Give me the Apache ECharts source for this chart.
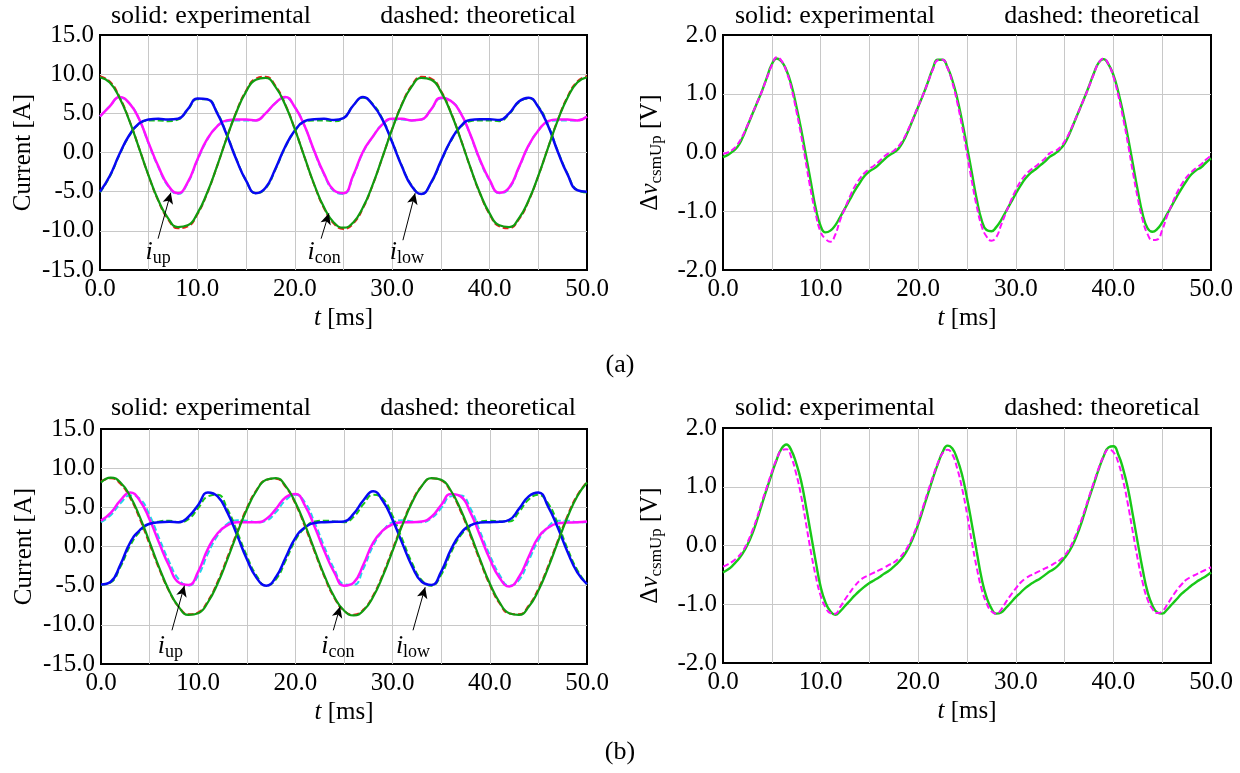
<!DOCTYPE html>
<html><head><meta charset="utf-8">
<script src="https://cdn.jsdelivr.net/npm/echarts@6/dist/echarts.min.js"></script>
<style>html,body{margin:0;padding:0;background:#fff}#c{width:1240px;height:773px}</style>
</head><body><div id="c"></div>
<script>
// time samples [ms]
const tI = [0,1,2,3,4,5,6,7,8,9,10,11,12,13,14,15,16,17,18,19,20,21,22,23,24,25,26,27,28,29,30,31,32,33,34,35,36,37,38,39,40,41,42,43,44,45,46,47,48,49,50];
const tV = [0,0.5,1,1.5,2,2.5,3,3.5,4,4.5,5,5.5,6,6.5,7,7.5,8,8.5,9,9.5,10,10.5,11,11.5,12,12.5,13,13.5,14,14.5,15,15.5,16,16.5,17,17.5,18,18.5,19,19.5,20,20.5,21,21.5,22,22.5,23,23.5,24,24.5,25,25.5,26,26.5,27,27.5,28,28.5,29,29.5,30,30.5,31,31.5,32,32.5,33,33.5,34,34.5,35,35.5,36,36.5,37,37.5,38,38.5,39,39.5,40,40.5,41,41.5,42,42.5,43,43.5,44,44.5,45,45.5,46,46.5,47,47.5,48,48.5,49,49.5,50];
const xTicks = [0,10,20,30,40,50];

// (a) currents [A]
const aConExp = [9.6,8.93,7.0,4.09,0.6,-2.97,-6.12,-8.41,-9.52,-9.3,-7.77,-5.14,-1.8,1.8,5.14,7.77,9.3,9.52,8.41,6.12,2.97,-0.6,-4.09,-7.0,-8.93,-9.6,-8.93,-7.0,-4.09,-0.6,2.97,6.12,8.41,9.52,9.3,7.77,5.14,1.8,-1.8,-5.14,-7.77,-9.3,-9.52,-8.41,-6.12,-2.97,0.6,4.09,7.0,8.93,9.6];
const aConThe = [9.75,9.07,7.11,4.15,0.61,-3.01,-6.21,-8.54,-9.67,-9.44,-7.89,-5.22,-1.83,1.83,5.22,7.89,9.44,9.67,8.54,6.21,3.01,-0.61,-4.15,-7.11,-9.07,-9.75,-9.07,-7.11,-4.15,-0.61,3.01,6.21,8.54,9.67,9.44,7.89,5.22,1.83,-1.83,-5.22,-7.89,-9.44,-9.67,-8.54,-6.21,-3.01,0.61,4.15,7.11,9.07,9.75];
const aLowExp = [-5.0,-3.0,-0.2,2.2,3.7,4.2,4.3,4.2,4.3,5.5,6.9,6.8,5.1,2.3,-0.9,-3.6,-5.2,-4.5,-2.1,0.7,2.8,4.0,4.25,4.3,4.15,4.4,6.0,7.1,6.1,4.2,1.3,-1.8,-4.3,-5.3,-3.8,-1.1,1.5,3.3,4.15,4.25,4.25,4.15,5.0,6.5,7.0,5.8,3.4,0.1,-2.8,-4.8,-5.0];
const aLowThe = [-5.1,-3.1,-0.3,2.1,3.6,4.1,4.1,4.0,4.2,5.4,6.8,6.8,5.2,2.4,-0.8,-3.6,-5.2,-4.6,-2.2,0.6,2.7,3.9,4.1,4.1,4.0,4.4,6.0,7.0,6.2,4.3,1.4,-1.7,-4.2,-5.3,-3.9,-1.2,1.4,3.2,4.0,4.1,4.1,4.0,4.9,6.4,6.9,5.9,3.5,0.2,-2.7,-4.8,-5.1];
const aUpExp = [4.6,5.9,7.1,6.3,4.3,1.2,-1.8,-4.2,-5.2,-3.8,-0.9,1.7,3.3,4.1,4.2,4.2,4.1,5.0,6.3,7.1,5.8,3.4,0.2,-2.7,-4.8,-5.2,-2.9,0.1,2.0,3.6,4.3,4.3,4.1,4.2,5.5,7.0,6.6,5.1,2.35,-0.9,-3.5,-5.15,-4.5,-1.9,0.9,2.8,4.0,4.2,4.2,4.1,4.6];
const aUpThe = [4.6,5.9,7.0,6.3,4.3,1.1,-1.9,-4.3,-5.3,-3.9,-1.0,1.6,3.3,4.0,4.1,4.1,4.1,5.0,6.3,7.0,5.8,3.4,0.1,-2.8,-4.9,-5.3,-3.0,0.0,2.0,3.6,4.2,4.2,4.1,4.2,5.5,6.9,6.6,5.1,2.3,-1.0,-3.6,-5.2,-4.6,-2.0,0.8,2.8,3.9,4.1,4.1,4.1,4.6];
// (a) voltage [V], 0.5 ms steps
const aVExp = [-0.08,-0.04,0.02,0.1,0.25,0.45,0.65,0.85,1.05,1.28,1.5,1.6,1.55,1.4,1.15,0.8,0.4,-0.05,-0.5,-0.95,-1.25,-1.36,-1.33,-1.24,-1.1,-0.95,-0.8,-0.65,-0.52,-0.4,-0.32,-0.27,-0.2,-0.12,
  -0.05,0.0,0.07,0.2,0.38,0.58,0.78,0.98,1.2,1.43,1.58,1.58,1.45,1.23,0.92,0.53,0.1,-0.35,-0.8,-1.15,-1.32,-1.34,-1.27,-1.15,-1.0,-0.85,-0.7,-0.56,-0.44,-0.35,-0.29,-0.22,-0.15,
  -0.07,-0.02,0.05,0.15,0.32,0.52,0.72,0.92,1.13,1.35,1.53,1.59,1.5,1.32,1.03,0.67,0.25,-0.2,-0.65,-1.05,-1.29,-1.35,-1.3,-1.19,-1.05,-0.9,-0.75,-0.61,-0.48,-0.37,-0.3,-0.25,-0.17,-0.1];
const aVThe = [-0.02,0.0,0.05,0.14,0.28,0.46,0.66,0.85,1.05,1.27,1.48,1.62,1.56,1.38,1.1,0.72,0.3,-0.18,-0.65,-1.05,-1.35,-1.47,-1.52,-1.4,-1.15,-0.95,-0.75,-0.58,-0.45,-0.35,-0.28,-0.22,-0.15,-0.07,
  -0.01,0.03,0.11,0.23,0.4,0.59,0.79,0.98,1.2,1.41,1.57,1.58,1.44,1.19,0.85,0.44,-0.02,-0.49,-0.92,-1.25,-1.43,-1.5,-1.44,-1.23,-1.02,-0.82,-0.64,-0.49,-0.38,-0.3,-0.24,-0.17,-0.1,
  -0.01,0.02,0.08,0.19,0.34,0.53,0.72,0.92,1.12,1.34,1.53,1.6,1.5,1.29,0.97,0.58,0.14,-0.34,-0.78,-1.15,-1.39,-1.49,-1.48,-1.32,-1.08,-0.88,-0.69,-0.54,-0.42,-0.33,-0.26,-0.2,-0.12,-0.05];

// (b) currents [A]
const bConExp = [8.18,8.8,8.18,6.42,3.75,0.55,-2.72,-5.61,-7.71,-8.73,-8.52,-7.12,-4.72,-1.65,1.65,4.72,7.12,8.52,8.73,7.71,5.61,2.72,-0.55,-3.75,-6.42,-8.18,-8.8,-8.18,-6.42,-3.75,-0.55,2.72,5.61,7.71,8.73,8.52,7.12,4.72,1.65,-1.65,-4.72,-7.12,-8.52,-8.73,-7.71,-5.61,-2.72,0.55,3.75,6.42,8.18];
const bConThe = [8.3,8.7,8.0,6.2,3.5,0.3,-2.9,-5.7,-7.7,-8.65,-8.4,-6.95,-4.5,-1.4,1.85,4.9,7.2,8.5,8.65,7.6,5.45,2.5,-0.75,-3.9,-6.55,-8.2,-8.7,-8.05,-6.25,-3.55,-0.35,2.9,5.75,7.75,8.7,8.45,6.95,4.5,1.4,-1.85,-4.9,-7.25,-8.55,-8.65,-7.55,-5.4,-2.5,0.75,3.95,6.55,8.25];
const bLowExp = [-4.85,-4.5,-2.3,0.5,2.1,2.9,3.1,3.15,3.1,3.8,5.3,6.9,6.4,4.35,1.45,-1.6,-4.0,-5.0,-3.9,-1.4,1.1,2.45,3.0,3.1,3.15,3.2,4.2,5.9,7.05,5.8,3.4,0.4,-2.5,-4.5,-4.9,-3.2,-0.4,1.65,2.7,3.05,3.1,3.15,3.4,4.8,6.4,6.9,5.1,2.4,-0.7,-3.3,-4.8];
const bLowThe = [-4.9,-4.6,-2.6,0.1,1.9,2.9,3.2,3.3,3.1,3.5,4.9,6.4,6.6,4.8,1.9,-1.2,-3.7,-5.0,-4.2,-1.8,0.8,2.4,3.2,3.3,3.2,3.1,3.8,5.4,6.6,6.1,3.9,0.9,-2.1,-4.3,-5.0,-3.6,-0.8,1.4,2.6,3.2,3.3,3.2,3.2,4.4,6.0,6.6,5.5,2.9,-0.3,-3.0,-4.8];
const bUpExp = [3.3,4.3,5.9,6.9,5.85,3.45,0.4,-2.45,-4.6,-4.9,-3.2,-0.3,1.7,2.7,3.1,3.1,3.1,3.5,4.8,6.3,6.7,5.2,2.45,-0.65,-3.3,-5.0,-4.6,-2.3,0.5,2.05,2.85,3.1,3.1,3.2,3.8,5.3,6.7,6.4,4.35,1.4,-1.6,-4.0,-5.1,-3.9,-1.3,1.2,2.4,2.95,3.05,3.1,3.2];
const bUpThe = [3.1,4.0,5.5,6.5,6.1,4.0,1.0,-1.9,-4.2,-5.0,-3.7,-0.9,1.4,2.9,3.35,3.3,3.1,3.3,4.4,5.9,6.6,5.6,3.0,-0.1,-2.9,-4.8,-4.9,-2.8,0.1,2.0,3.1,3.35,3.2,3.1,3.6,4.9,6.4,6.5,4.9,1.9,-1.1,-3.6,-5.0,-4.3,-1.8,0.8,2.5,3.3,3.3,3.1,3.1];
// (b) voltage [V], 0.5 ms steps
const bVExp = [-0.46,-0.41,-0.34,-0.25,-0.14,0.01,0.2,0.44,0.71,0.97,1.22,1.46,1.65,1.72,1.62,1.4,1.1,0.67,0.2,-0.27,-0.7,-0.97,-1.12,-1.18,-1.12,-1.03,-0.94,-0.85,-0.77,-0.7,-0.64,-0.59,-0.54,-0.48,
  -0.43,-0.36,-0.28,-0.18,-0.04,0.14,0.36,0.62,0.88,1.14,1.38,1.59,1.7,1.65,1.47,1.2,0.81,0.36,-0.11,-0.56,-0.88,-1.07,-1.16,-1.14,-1.06,-0.97,-0.88,-0.8,-0.72,-0.66,-0.61,-0.56,-0.5,
  -0.44,-0.39,-0.31,-0.21,-0.09,0.07,0.28,0.53,0.8,1.05,1.3,1.52,1.67,1.69,1.55,1.3,0.96,0.51,0.04,-0.41,-0.79,-1.02,-1.14,-1.16,-1.09,-1.0,-0.91,-0.82,-0.75,-0.68,-0.62,-0.57,-0.52,-0.46];
const bVThe = [-0.36,-0.32,-0.27,-0.2,-0.1,0.05,0.25,0.48,0.75,1.0,1.25,1.47,1.62,1.64,1.5,1.22,0.85,0.38,-0.1,-0.52,-0.85,-1.05,-1.15,-1.16,-1.05,-0.92,-0.8,-0.69,-0.6,-0.54,-0.5,-0.46,-0.42,-0.38,
  -0.33,-0.29,-0.22,-0.13,0.0,0.18,0.4,0.66,0.92,1.17,1.4,1.57,1.63,1.55,1.31,0.97,0.54,0.06,-0.38,-0.74,-0.98,-1.12,-1.16,-1.09,-0.96,-0.84,-0.73,-0.63,-0.56,-0.51,-0.47,-0.43,-0.39,
  -0.35,-0.3,-0.25,-0.17,-0.05,0.12,0.33,0.57,0.83,1.08,1.32,1.52,1.63,1.59,1.41,1.1,0.69,0.22,-0.24,-0.63,-0.92,-1.08,-1.15,-1.12,-1.01,-0.88,-0.76,-0.66,-0.58,-0.53,-0.49,-0.45,-0.41,-0.37];

// annotation anchors (data coordinates): label centre, arrow tail, arrow tip
const annA = [
  {sub:'up',  label:[5.96,-12.7], tail:[5.96,-11.0], tip:[7.27,-5.13]},
  {sub:'con', label:[23.0,-12.7], tail:[22.7,-11.0], tip:[23.5,-7.77]},
  {sub:'low', label:[31.5,-12.7], tail:[31.1,-11.2], tip:[32.35,-5.2]}
];
const annB = [
  {sub:'up',  label:[7.14,-12.7], tail:[7.3,-10.7], tip:[8.58,-5.0]},
  {sub:'con', label:[24.36,-12.7], tail:[23.9,-10.7], tip:[24.6,-7.67]},
  {sub:'low', label:[32.1,-12.7], tail:[32.1,-10.7], tip:[33.35,-5.2]}
];

const FONT = "'Liberation Serif','Times New Roman',serif";
const BLACK = '#000';
const richBase = {
  n:   {fontFamily:FONT, fontSize:25, color:BLACK, lineHeight:30},
  it:  {fontFamily:FONT, fontSize:25, color:BLACK, fontStyle:'italic', lineHeight:30},
  sub: {fontFamily:FONT, fontSize:17, color:BLACK, lineHeight:17, padding:[13,0,0,0], verticalAlign:'top'}
};
const annRich = {
  it:  {fontFamily:FONT, fontSize:26, color:BLACK, fontStyle:'italic', lineHeight:30},
  sub: {fontFamily:FONT, fontSize:18, color:BLACK, lineHeight:18, padding:[12,0,0,0], verticalAlign:'top'}
};

const grids = [
  {left:100, top:35, width:487, height:235},
  {left:723, top:35, width:488, height:235},
  {left:101, top:429, width:486, height:235},
  {left:723, top:428, width:488, height:235}
];

function xAxisFor(i){
  return {
    type:'value', gridIndex:i, min:0, max:50, interval:5,
    axisLine:{show:false}, axisTick:{show:false},
    splitLine:{show:true, showMinLine:false, showMaxLine:false, lineStyle:{color:'#c8c8c8', width:1}},
    axisLabel:{fontFamily:FONT, fontSize:25, color:BLACK, margin:7,
      formatter:v => xTicks.indexOf(v) >= 0 ? v.toFixed(1) : ''},
    name:'{it|t}{n| [ms]}', nameLocation:'middle', nameGap:33,
    nameTextStyle:{fontFamily:FONT, fontSize:25, color:BLACK, rich:richBase}
  };
}
function yAxisFor(i, cur){
  return {
    type:'value', gridIndex:i, min:cur?-15:-2, max:cur?15:2, interval:cur?5:1,
    axisLine:{show:false}, axisTick:{show:false},
    splitLine:{show:true, showMinLine:false, showMaxLine:false, lineStyle:{color:'#c8c8c8', width:1}},
    axisLabel:{fontFamily:FONT, fontSize:25, color:BLACK, margin:6, formatter:v => v.toFixed(1)},
    name: cur ? 'Current [A]' : '{n|Δ}{it|v}{sub|csmUp}{n| [V]}',
    nameLocation:'middle', nameGap: cur ? 64 : 58,
    nameTextStyle:{fontFamily:FONT, fontSize:25, color:BLACK, rich:richBase}
  };
}
function line(gi, xs, arr, color, dashed, width){
  return {
    type:'line', xAxisIndex:gi, yAxisIndex:gi, smooth:true, symbol:'none', showSymbol:false,
    silent:true, animation:false,
    data:xs.map((x,k)=>[x, arr[k]]),
    lineStyle:{color, width, type: dashed ? [6,3] : 'solid'}
  };
}
function annotate(series, ann){
  series.markLine = {
    silent:true, animation:false, symbolSize:[8,11],
    lineStyle:{color:BLACK, width:1, type:'solid'},
    label:{show:false},
    data: ann.map(a => [{coord:a.tail, symbol:'none'}, {coord:a.tip, symbol:'arrow'}])
  };
  series.markPoint = {
    silent:true, animation:false, symbol:'circle', symbolSize:1,
    itemStyle:{color:'rgba(0,0,0,0)'},
    data: ann.map(a => ({coord:a.label,
      label:{show:true, position:'inside', formatter:'{it|i}{sub|' + a.sub + '}', rich:annRich}}))
  };
  return series;
}

const C = {green:'#109c10', red:'#ee1c1c', mag:'#ff10ff', cyan:'#20d8e8', blue:'#0808f4', lgreen:'#18c818'};

const series = [
  // (a) currents: theoretical (dashed) under experimental (solid)
  line(0, tI, aConThe, C.red, true, 2),
  line(0, tI, aUpThe, C.cyan, true, 2),
  line(0, tI, aLowThe, C.lgreen, true, 2),
  line(0, tI, aUpExp, C.mag, false, 2.5),
  line(0, tI, aLowExp, C.blue, false, 2.5),
  annotate(line(0, tI, aConExp, C.green, false, 2.2), annA),
  // (a) voltage
  line(1, tV, aVExp, C.lgreen, false, 2.4),
  line(1, tV, aVThe, C.mag, true, 2),
  // (b) currents
  line(2, tI, bConThe, C.red, true, 2),
  line(2, tI, bUpThe, C.cyan, true, 2),
  line(2, tI, bLowThe, C.lgreen, true, 2),
  line(2, tI, bUpExp, C.mag, false, 2.5),
  line(2, tI, bLowExp, C.blue, false, 2.5),
  annotate(line(2, tI, bConExp, C.green, false, 2.2), annB),
  // (b) voltage
  line(3, tV, bVExp, C.lgreen, false, 2.4),
  line(3, tV, bVThe, C.mag, true, 2)
];

const ts = {fontFamily:FONT, fontSize:26, fontWeight:'normal', color:BLACK};
const titles = [
  {text:'solid: experimental', left:111, top:3},
  {text:'dashed: theoretical', right:664, top:3},
  {text:'solid: experimental', left:735, top:3},
  {text:'dashed: theoretical', right:40, top:3},
  {text:'solid: experimental', left:111, top:395},
  {text:'dashed: theoretical', right:664, top:395},
  {text:'solid: experimental', left:735, top:395},
  {text:'dashed: theoretical', right:40, top:395},
  {text:'(a)', left:'center', top:352},
  {text:'(b)', left:'center', top:739}
].map(o => Object.assign({padding:0, textStyle:ts}, o));

const chart = echarts.init(document.getElementById('c'));
chart.setOption({
  animation:false,
  backgroundColor:'#fff',
  title:titles,
  grid:grids.map(g => Object.assign({show:true, borderColor:BLACK, borderWidth:2, backgroundColor:'transparent'}, g)),
  xAxis:[0,1,2,3].map(xAxisFor),
  yAxis:[yAxisFor(0,true), yAxisFor(1,false), yAxisFor(2,true), yAxisFor(3,false)],
  series
});
</script>
</body></html>
